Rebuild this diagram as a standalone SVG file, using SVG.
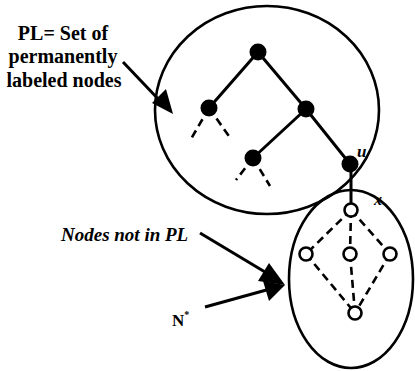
<svg xmlns="http://www.w3.org/2000/svg" width="415" height="371" viewBox="0 0 415 371">
  <style>
    .region { fill: none; stroke: #000; stroke-width: 2.6; }
    .edge { stroke: #000; stroke-width: 3; stroke-linecap: round; fill: none; }
    .dash { stroke: #000; stroke-width: 2.6; stroke-dasharray: 8 5; fill: none; }
    .done { fill: #000; }
    .open { fill: #fff; stroke: #000; stroke-width: 2.6; }
    .lead { stroke: #000; stroke-width: 3; fill: none; }
    .head { fill: #000; }
    text { font-family: 'Liberation Serif', 'DejaVu Serif', serif; fill: #000; font-weight: bold; }
    .ital { font-style: italic; }
  </style>

  <!-- set PL: region of permanently labeled nodes -->
  <g id="set-pl">
    <ellipse class="region" cx="267" cy="110" rx="112" ry="104"/>
  </g>

  <!-- remaining nodes -->
  <g id="set-rest">
    <ellipse class="region" cx="351" cy="279" rx="62" ry="89"/>
  </g>

  <!-- connectors -->
  <g id="connectors">
    <!-- tree inside PL -->
    <line class="edge" x1="258" y1="52" x2="209" y2="108"/>
    <line class="edge" x1="258" y1="52" x2="306" y2="109"/>
    <line class="edge" x1="306" y1="109" x2="253" y2="158"/>
    <line class="edge" x1="306" y1="109" x2="350" y2="164"/>
    <line class="dash" x1="209" y1="108" x2="191" y2="139"/>
    <line class="dash" x1="209" y1="108" x2="231" y2="139"/>
    <line class="dash" x1="253" y1="158" x2="236" y2="180"/>
    <line class="dash" x1="253" y1="158" x2="270" y2="186"/>
    <!-- u to x -->
    <line class="edge" x1="351" y1="164" x2="351" y2="210"/>
    <!-- graph outside PL -->
    <line class="dash" x1="351" y1="210" x2="306" y2="254"/>
    <line class="dash" x1="351" y1="210" x2="390" y2="254"/>
    <line class="dash" x1="351" y1="210" x2="350" y2="254"/>
    <line class="dash" x1="350" y1="254" x2="355" y2="313"/>
    <line class="dash" x1="306" y1="254" x2="355" y2="313"/>
    <line class="dash" x1="390" y1="254" x2="355" y2="313"/>
    <!-- pointers from labels -->
    <line class="lead" x1="123" y1="62" x2="162" y2="103"/>
    <polygon class="head" points="152,103 166,89 173,114"/>
    <line class="lead" x1="200" y1="233" x2="270" y2="275"/>
    <line class="lead" x1="205" y1="307" x2="270" y2="289"/>
    <polygon class="head" points="258,281 269,263 285,285"/>
    <polygon class="head" points="263,281 285,285 269,301"/>
  </g>

  <!-- nodes in PL -->
  <g id="n-root"><circle class="done" cx="258" cy="52" r="8.5"/></g>
  <g id="n-left"><circle class="done" cx="209" cy="108" r="8.5"/></g>
  <g id="n-right"><circle class="done" cx="306" cy="109" r="8.5"/></g>
  <g id="n-mid"><circle class="done" cx="253" cy="158" r="8.5"/></g>
  <g id="n-u"><circle class="done" cx="350" cy="164" r="8.5"/></g>

  <!-- nodes not in PL -->
  <g id="n-x"><circle class="open" cx="351" cy="210" r="6.5"/></g>
  <g id="n-a"><circle class="open" cx="306" cy="254" r="6.5"/></g>
  <g id="n-b"><circle class="open" cx="350" cy="254" r="6.5"/></g>
  <g id="n-c"><circle class="open" cx="390" cy="254" r="6.5"/></g>
  <g id="n-d"><circle class="open" cx="355" cy="313" r="6.5"/></g>

  <!-- labels -->
  <g id="labels">
    <text font-size="20" text-anchor="middle" x="63" y="40">PL= Set of</text>
    <text font-size="20" text-anchor="middle" x="63" y="63">permanently</text>
    <text font-size="20" text-anchor="middle" x="64" y="87">labeled nodes</text>
    <text class="ital" font-size="19" x="61" y="241">Nodes not in PL</text>
    <text font-size="17" x="172" y="326">N<tspan font-size="10" dy="-8">*</tspan></text>
    <text class="ital" font-size="17" x="357" y="157">u</text>
    <text class="ital" font-size="16" x="374" y="205">x</text>
  </g>
</svg>
